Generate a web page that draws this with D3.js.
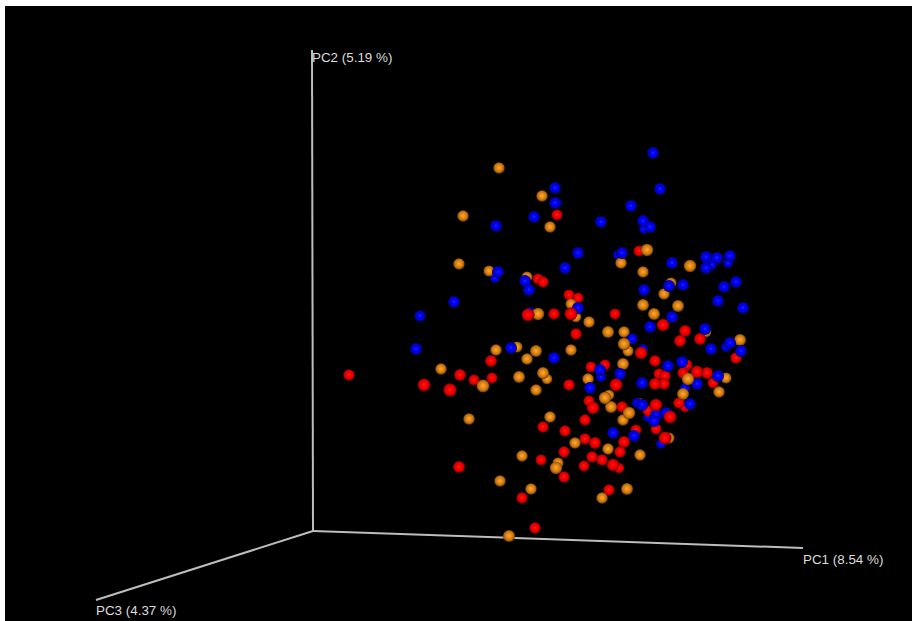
<!DOCTYPE html>
<html>
<head>
<meta charset="utf-8">
<title>PCoA</title>
<script src="https://d3js.org/d3.v7.min.js"></script>
<style>
  html, body { margin: 0; padding: 0; background: #fff; }
  svg { display: block; font-family: "Liberation Sans", Arial, sans-serif; }
</style>
</head>
<body>
<div id="chart"></div>
<script>
// projected position [right of origin, above origin, depth 0 far .. 10 near]
const bluePoints = [
  [340,378,5],[347,342,5],[318,325,5],[288,309,5],[330,310,5],[331,302,1],[337,304,5],[265,278,5],
  [305,276,1],[309,278,5],[359,268,5],[393,274,5],[404,273,5],[417,275,5],[415,268,1],[399,266,1],
  [393,263,5],[242,343,5],[242,328,5],[244,328,1],[221,314,5],[183,305,5],[252,263,5],[185,259,5],
  [182,253,1],[212,250,5],[216,241,5],[141,229,5],[107,215,4],[103,182,5],[265,223,5],[217,219,1],
  [198,183,5],[241,173,5],[331,241,5],[356,245,5],[370,246,5],[411,244,5],[423,249,5],[405,230,5],
  [430,223,5],[359,214,5],[337,204,5],[392,202,5],[319,192,4],[417,188,5],[413,184,1],[398,182,5],
  [428,180,5],[330,182,1],[287,161,5],[288,154,1],[307,157,5],[355,165,5],[369,169,5],[405,155,5],
  [384,147,5],[329,148,5],[277,143,5],[377,127,5],[324,128,1],[329,126,5],[343,116,5],[353,118,5],
  [335,114,1],[341,110,5],[300,98,5],[321,95,5],[348,87,1],[372,143,1]
]
const redPoints = [
  [244,316,3],[326,280,3],[225,252,3],[230,249,4],[256,236,3],[265,233,3],[258,217,7],[215,216,7],
  [241,217,4],[263,197,4],[178,170,5],[147,156,5],[161,151,3],[179,153,3],[111,146,7],[137,141,8],
  [256,146,4],[36,156,4],[302,217,3],[350,206,6],[372,200,5],[387,192,5],[367,190,5],[423,173,4],
  [328,178,6],[342,170,4],[278,164,3],[292,166,3],[374,166,3],[370,158,4],[384,159,6],[394,158,5],
  [400,148,3],[346,157,3],[352,155,4],[342,147,5],[351,147,4],[303,146,7],[366,128,4],[372,124,2],
  [276,130,3],[280,123,6],[309,124,4],[343,126,6],[335,120,3],[357,114,7],[343,102,3],[272,111,4],
  [323,101,3],[352,93,7],[272,92,4],[282,88,5],[311,89,5],[307,79,4],[279,74,4],[289,71,4],
  [271,65,3],[300,66,6],[306,63,2],[296,41,4],[230,104,4],[252,100,4],[251,79,4],[228,71,3],
  [251,54,4],[146,64,5],[209,33,4],[222,3,4]
]
const orangePoints = [
  [186,363,4],[229,335,4],[150,315,4],[237,304,4],[146,267,4],[308,268,4],[334,281,6],[377,265,6],
  [330,259,4],[176,260,3],[214,254,3],[258,227,3],[263,214,2],[225,217,6],[183,181,4],[204,184,3],
  [223,180,5],[214,172,4],[258,181,4],[128,162,4],[206,154,5],[230,158,5],[234,152,2],[170,145,7],
  [223,141,4],[358,248,3],[351,237,4],[330,226,5],[365,225,5],[341,217,5],[276,209,4],[295,199,5],
  [311,199,4],[393,199,2],[427,191,5],[311,187,6],[315,180,3],[310,167,5],[275,152,4],[413,153,3],
  [375,152,6],[406,139,4],[370,137,5],[296,136,2],[292,133,6],[298,124,5],[316,118,6],[310,111,4],
  [327,128,0],[356,93,3],[262,88,4],[295,82,4],[327,76,4],[156,112,4],[237,114,4],[209,75,4],
  [245,68,3],[243,63,6],[187,50,4],[218,42,4],[314,42,5],[289,33,4],[196,-5,5]
]

const axisNames = ['PC1 (8.54 %)', 'PC2 (5.19 %)', 'PC3 (4.37 %)']
const axisEnds = [[490,-17], [-1,481], [-217,-69]]

const width = 912
const height = 621

const x = d3.scaleLinear().domain([-313, 599]).range([0, width])
const y = d3.scaleLinear().domain([-90, 531]).range([height, 0])
const radius = d3.scaleLinear().domain([0, 10]).range([4.8, 7.2])

const svg = d3.select('#chart').append('svg')
  .attr('width', width)
  .attr('height', height)

// black plot area, white strip left and on top
svg.append('rect')
  .attr('x', 5).attr('y', 6)
  .attr('width', width - 5).attr('height', height - 6)
  .attr('fill', '#000')

// shaded balls
const shades = [
  {id: 'ball-red', stops: ['#ff2020', '#ff0000', '#d80000', '#600000']},
  {id: 'ball-orange', stops: ['#ffa838', '#f0921c', '#c4720e', '#5c3606']},
  {id: 'ball-blue', stops: ['#2828ff', '#0000ff', '#0000d0', '#000058']}
]
const grads = svg.append('defs').selectAll('radialGradient')
  .data(shades)
  .enter()
  .append('radialGradient')
  .attr('id', d => d.id)
  .attr('cx', '50%').attr('cy', '48%').attr('r', '52%')
grads.selectAll('stop')
  .data(d => d.stops)
  .enter()
  .append('stop')
  .attr('offset', (d, i) => [0, 0.3, 0.7, 1][i])
  .attr('stop-color', d => d)

// axes
svg.selectAll('line.axis')
  .data(axisEnds)
  .enter()
  .append('line')
  .attr('class', 'axis')
  .attr('x1', x(0)).attr('y1', y(0))
  .attr('x2', d => x(d[0])).attr('y2', d => y(d[1]))
  .attr('stroke', '#bdbdbd')
  .attr('stroke-width', 2)

svg.selectAll('text.axis-label')
  .data(axisNames)
  .enter()
  .append('text')
  .attr('class', 'axis-label')
  .attr('x', (d, i) => x(axisEnds[i][0]))
  .attr('y', (d, i) => y(axisEnds[i][1]) + [16, 12, 15][i])
  .attr('font-size', 13.4)
  .attr('fill', '#dcdcdc')
  .text(d => d)

// far balls first so near ones overlap them
const allPoints = [
  ...redPoints.map(p => ({p, shade: 'ball-red'})),
  ...orangePoints.map(p => ({p, shade: 'ball-orange'})),
  ...bluePoints.map(p => ({p, shade: 'ball-blue'}))
].sort((a, b) => a.p[2] - b.p[2])

svg.selectAll('circle.ball')
  .data(allPoints)
  .enter()
  .append('circle')
  .attr('class', 'ball')
  .attr('cx', d => x(d.p[0]))
  .attr('cy', d => y(d.p[1]))
  .attr('r', d => radius(d.p[2]))
  .attr('fill', d => `url(#${d.shade})`)
</script>
</body>
</html>
